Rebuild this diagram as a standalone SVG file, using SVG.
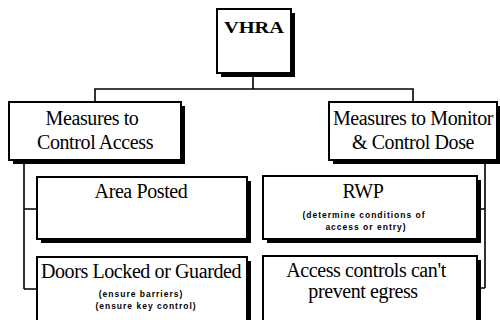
<svg xmlns="http://www.w3.org/2000/svg" width="500" height="320" viewBox="0 0 500 320">
  <style>
    .shadow { fill: #000; }
    .box { fill: #fff; stroke: #000; stroke-width: 2; }
    .wire { fill: none; stroke: #000; stroke-width: 1.6; }
    .t { font-family: "Liberation Serif", "Times New Roman", serif; font-size: 20px; fill: #000; text-anchor: middle; letter-spacing: -0.4px; }
    .title { font-family: "Liberation Serif", "Times New Roman", serif; font-size: 17px; font-weight: bold; fill: #000; text-anchor: middle; }
    .note { font-family: "Liberation Sans", Arial, sans-serif; font-size: 8.5px; font-weight: bold; fill: #000; text-anchor: middle; letter-spacing: 1px; }
  </style>
  <rect width="500" height="320" fill="#fff"/>

  <!-- connectors -->
  <g id="connectors">
    <path class="wire" d="M253 77 V89 M95 102 V89 H413 V102"/>
    <path class="wire" d="M24 164 V289 M24 209 H37 M24 289 H37"/>
    <path class="wire" d="M485 164 V288 M485 209 H478 M485 288 H478"/>
  </g>

  <g id="vhra">
    <rect class="shadow" x="221" y="13" width="74" height="64"/>
    <rect class="box" x="217" y="9" width="74" height="64"/>
    <text class="title" x="254" y="33" textLength="60" lengthAdjust="spacingAndGlyphs">VHRA</text>
  </g>

  <g id="control-access">
    <rect class="shadow" x="13" y="106" width="172" height="58"/>
    <rect class="box" x="9" y="102" width="172" height="58"/>
    <text class="t" x="92" y="125">Measures to</text>
    <text class="t" x="95" y="149">Control Access</text>
  </g>

  <g id="monitor-dose">
    <rect class="shadow" x="333" y="106" width="168" height="58"/>
    <rect class="box" x="329" y="102" width="168" height="58"/>
    <text class="t" x="413" y="125">Measures to Monitor</text>
    <text class="t" x="413" y="149">&amp; Control Dose</text>
  </g>

  <g id="area-posted">
    <rect class="shadow" x="41" y="181" width="210" height="62"/>
    <rect class="box" x="37" y="177" width="210" height="62"/>
    <text class="t" x="141" y="198">Area Posted</text>
  </g>

  <g id="doors-locked">
    <rect class="shadow" x="41" y="261" width="210" height="70"/>
    <rect class="box" x="37" y="257" width="210" height="70"/>
    <text class="t" x="141" y="278">Doors Locked or Guarded</text>
    <text class="note" x="141" y="297">(ensure barriers)</text>
    <text class="note" x="146" y="309">(ensure key control)</text>
  </g>

  <g id="rwp">
    <rect class="shadow" x="267" y="180" width="214" height="63"/>
    <rect class="box" x="263" y="176" width="214" height="63"/>
    <text class="t" x="363" y="198">RWP</text>
    <text class="note" x="364" y="218">(determine conditions of</text>
    <text class="note" x="366" y="230">access or entry)</text>
  </g>

  <g id="access-controls">
    <rect class="shadow" x="267" y="260" width="214" height="70"/>
    <rect class="box" x="263" y="256" width="214" height="70"/>
    <text class="t" x="366" y="277">Access controls can't</text>
    <text class="t" x="363" y="298">prevent egress</text>
  </g>
</svg>
